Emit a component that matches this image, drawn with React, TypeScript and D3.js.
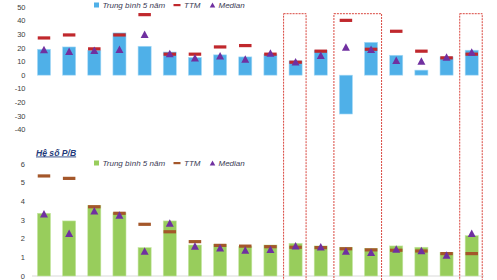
import React from "react";
import * as d3 from "d3";

const categories = ["C1","C2","C3","C4","C5","C6","C7","C8","C9","C10","C11","C12","C13","C14","C15","C16","C17","C18"];

const peAvg5 = [19, 20.7, 18.3, 31, 21.2, 17, 13, 14.9, 13.4, 15.4, 10.5, 18.3, -28.5, 24.1, 14.6, 3.7, 13.4, 18.3];
const peTTM = [27.3, 29.5, 19.3, 29.5, 44.4, 15.4, 15.4, 20.7, 21.7, 15.4, 9.5, 17.6, 40.2, 19, 32.2, 17.6, 12.7, 15.4];
const peMedian = [18.9, 17.6, 18.3, 19, 30.1, 15.9, 12.7, 14.3, 11.8, 16.2, 9.8, 14.6, 20.6, 19, 11, 10.4, 13.3, 17];
const peTicks = [50, 40, 30, 20, 10, 0, -10, -20, -30, -40];

const pbAvg5 = [3.36, 2.95, 3.77, 3.39, 1.52, 2.95, 1.66, 1.7, 1.57, 1.66, 1.75, 1.61, 1.54, 1.48, 1.61, 1.54, 1.27, 2.16];
const pbTTM = [5.36, 5.23, 3.71, 3.36, 2.77, 2.37, 1.84, 1.64, 1.6, 1.57, 1.54, 1.52, 1.46, 1.4, 1.38, 1.34, 1.2, 1.2];
const pbMedian = [3.33, 2.29, 3.5, 3.27, 1.34, 2.84, 1.61, 1.52, 1.39, 1.43, 1.62, 1.57, 1.34, 1.27, 1.45, 1.37, 1.12, 2.29];
const pbTicks = [6, 5, 4, 3, 2, 1, 0];

const highlightGroups = [["C11"], ["C13", "C14"], ["C18"]];

const legendLabels = ["Trung bình 5 năm", "TTM", "Median"];
const pbTitle = "Hệ số P/B";

const FONT = "'Liberation Sans', Arial, sans-serif";
const BLUE = "#4fb0e8";
const RED = "#c0282d";
const GREEN = "#98cd5c";
const BROWN = "#a4572a";
const PURPLE = "#7030a0";

function tri(cx: number, cy: number, w = 8, h = 7.5) {
  const p = d3.path();
  p.moveTo(cx, cy - h / 2);
  p.lineTo(cx + w / 2, cy + h / 2);
  p.lineTo(cx - w / 2, cy + h / 2);
  p.closePath();
  return p.toString();
}

function Legend({ y, barColor, ttmColor }: { y: number; barColor: string; ttmColor: string }) {
  return (
    <g fontFamily={FONT} fontStyle="italic" fontSize={8} fill="#3b3b55">
      <rect x={94} y={y - 2.5} width={5} height={5} fill={barColor} />
      <text x={102.5} y={y} dy="0.35em">{legendLabels[0]}</text>
      <rect x={173.5} y={y - 1} width={7} height={2.2} fill={ttmColor} />
      <text x={184} y={y} dy="0.35em">{legendLabels[1]}</text>
      <path d={tri(212.5, y, 5.5, 5)} fill={PURPLE} />
      <text x={218.5} y={y} dy="0.35em">{legendLabels[2]}</text>
    </g>
  );
}

export default function App() {
  const x = d3.scaleBand<string>().domain(categories).range([31.4, 484.3]).paddingInner(0.48).paddingOuter(0.24);
  const bw = x.bandwidth();
  const cx = (c: string) => (x(c) as number) + bw / 2;

  const yPE = d3.scaleLinear().domain([-40, 50]).range([129.7, 7]);
  const yPB = d3.scaleLinear().domain([0, 6]).range([276, 164]);

  const dashW = 12.5;

  return (
    <svg width={497} height={280} style={{ position: "absolute", left: 0, top: 0, background: "#fff" }}>
      {/* P/E chart */}
      <g fontFamily={FONT} fontSize={7.5} fill="#404040" textAnchor="end">
        {peTicks.map((t) => (
          <text key={t} x={25.5} y={yPE(t)} dy="0.35em">{t}</text>
        ))}
      </g>
      <Legend y={5} barColor={BLUE} ttmColor={RED} />
      {categories.map((c, i) => (
        <rect key={"peb" + c} x={x(c)} width={bw} y={yPE(Math.max(0, peAvg5[i]))}
          height={Math.abs(yPE(peAvg5[i]) - yPE(0))} fill={BLUE} stroke="#a9dbf7" strokeWidth={0.6} />
      ))}
      {categories.map((c, i) => (
        <rect key={"pet" + c} x={cx(c) - dashW / 2} width={dashW} y={yPE(peTTM[i]) - 1.6} height={3.2} fill={RED} />
      ))}
      {categories.map((c, i) => (
        <path key={"pem" + c} d={tri(cx(c), yPE(peMedian[i]))} fill={PURPLE} />
      ))}

      {/* P/B chart */}
      <text x={36} y={152.5} dy="0.35em" fontFamily={FONT} fontSize={8.6} fontWeight="bold" fontStyle="italic"
        fill="#1f3a7a" textDecoration="underline">{pbTitle}</text>
      <g fontFamily={FONT} fontSize={7.5} fill="#404040" textAnchor="end">
        {pbTicks.map((t) => (
          <text key={t} x={25} y={yPB(t)} dy="0.35em">{t}</text>
        ))}
      </g>
      <Legend y={163} barColor={GREEN} ttmColor={BROWN} />
      <line x1={32} x2={484} y1={yPB(0)} y2={yPB(0)} stroke="#d9d9d9" strokeWidth={1} />
      {categories.map((c, i) => (
        <rect key={"pbb" + c} x={x(c)} width={bw} y={yPB(pbAvg5[i])}
          height={yPB(0) - yPB(pbAvg5[i])} fill={GREEN} stroke="#c6e6a3" strokeWidth={0.6} />
      ))}
      {categories.map((c, i) => (
        <rect key={"pbt" + c} x={cx(c) - dashW / 2} width={dashW} y={yPB(pbTTM[i]) - 1.6} height={3.2} fill={BROWN} />
      ))}
      {categories.map((c, i) => (
        <path key={"pbm" + c} d={tri(cx(c), yPB(pbMedian[i]))} fill={PURPLE} />
      ))}

      {/* highlight boxes */}
      {highlightGroups.map((g, i) => {
        const left = cx(g[0]) - 12;
        const right = cx(g[g.length - 1]) + 10.5;
        return (
          <rect key={"hl" + i} x={left} y={13.7} width={right - left} height={290}
            fill="none" stroke="#d9473f" strokeWidth={1} strokeDasharray="2,1" />
        );
      })}
    </svg>
  );
}
